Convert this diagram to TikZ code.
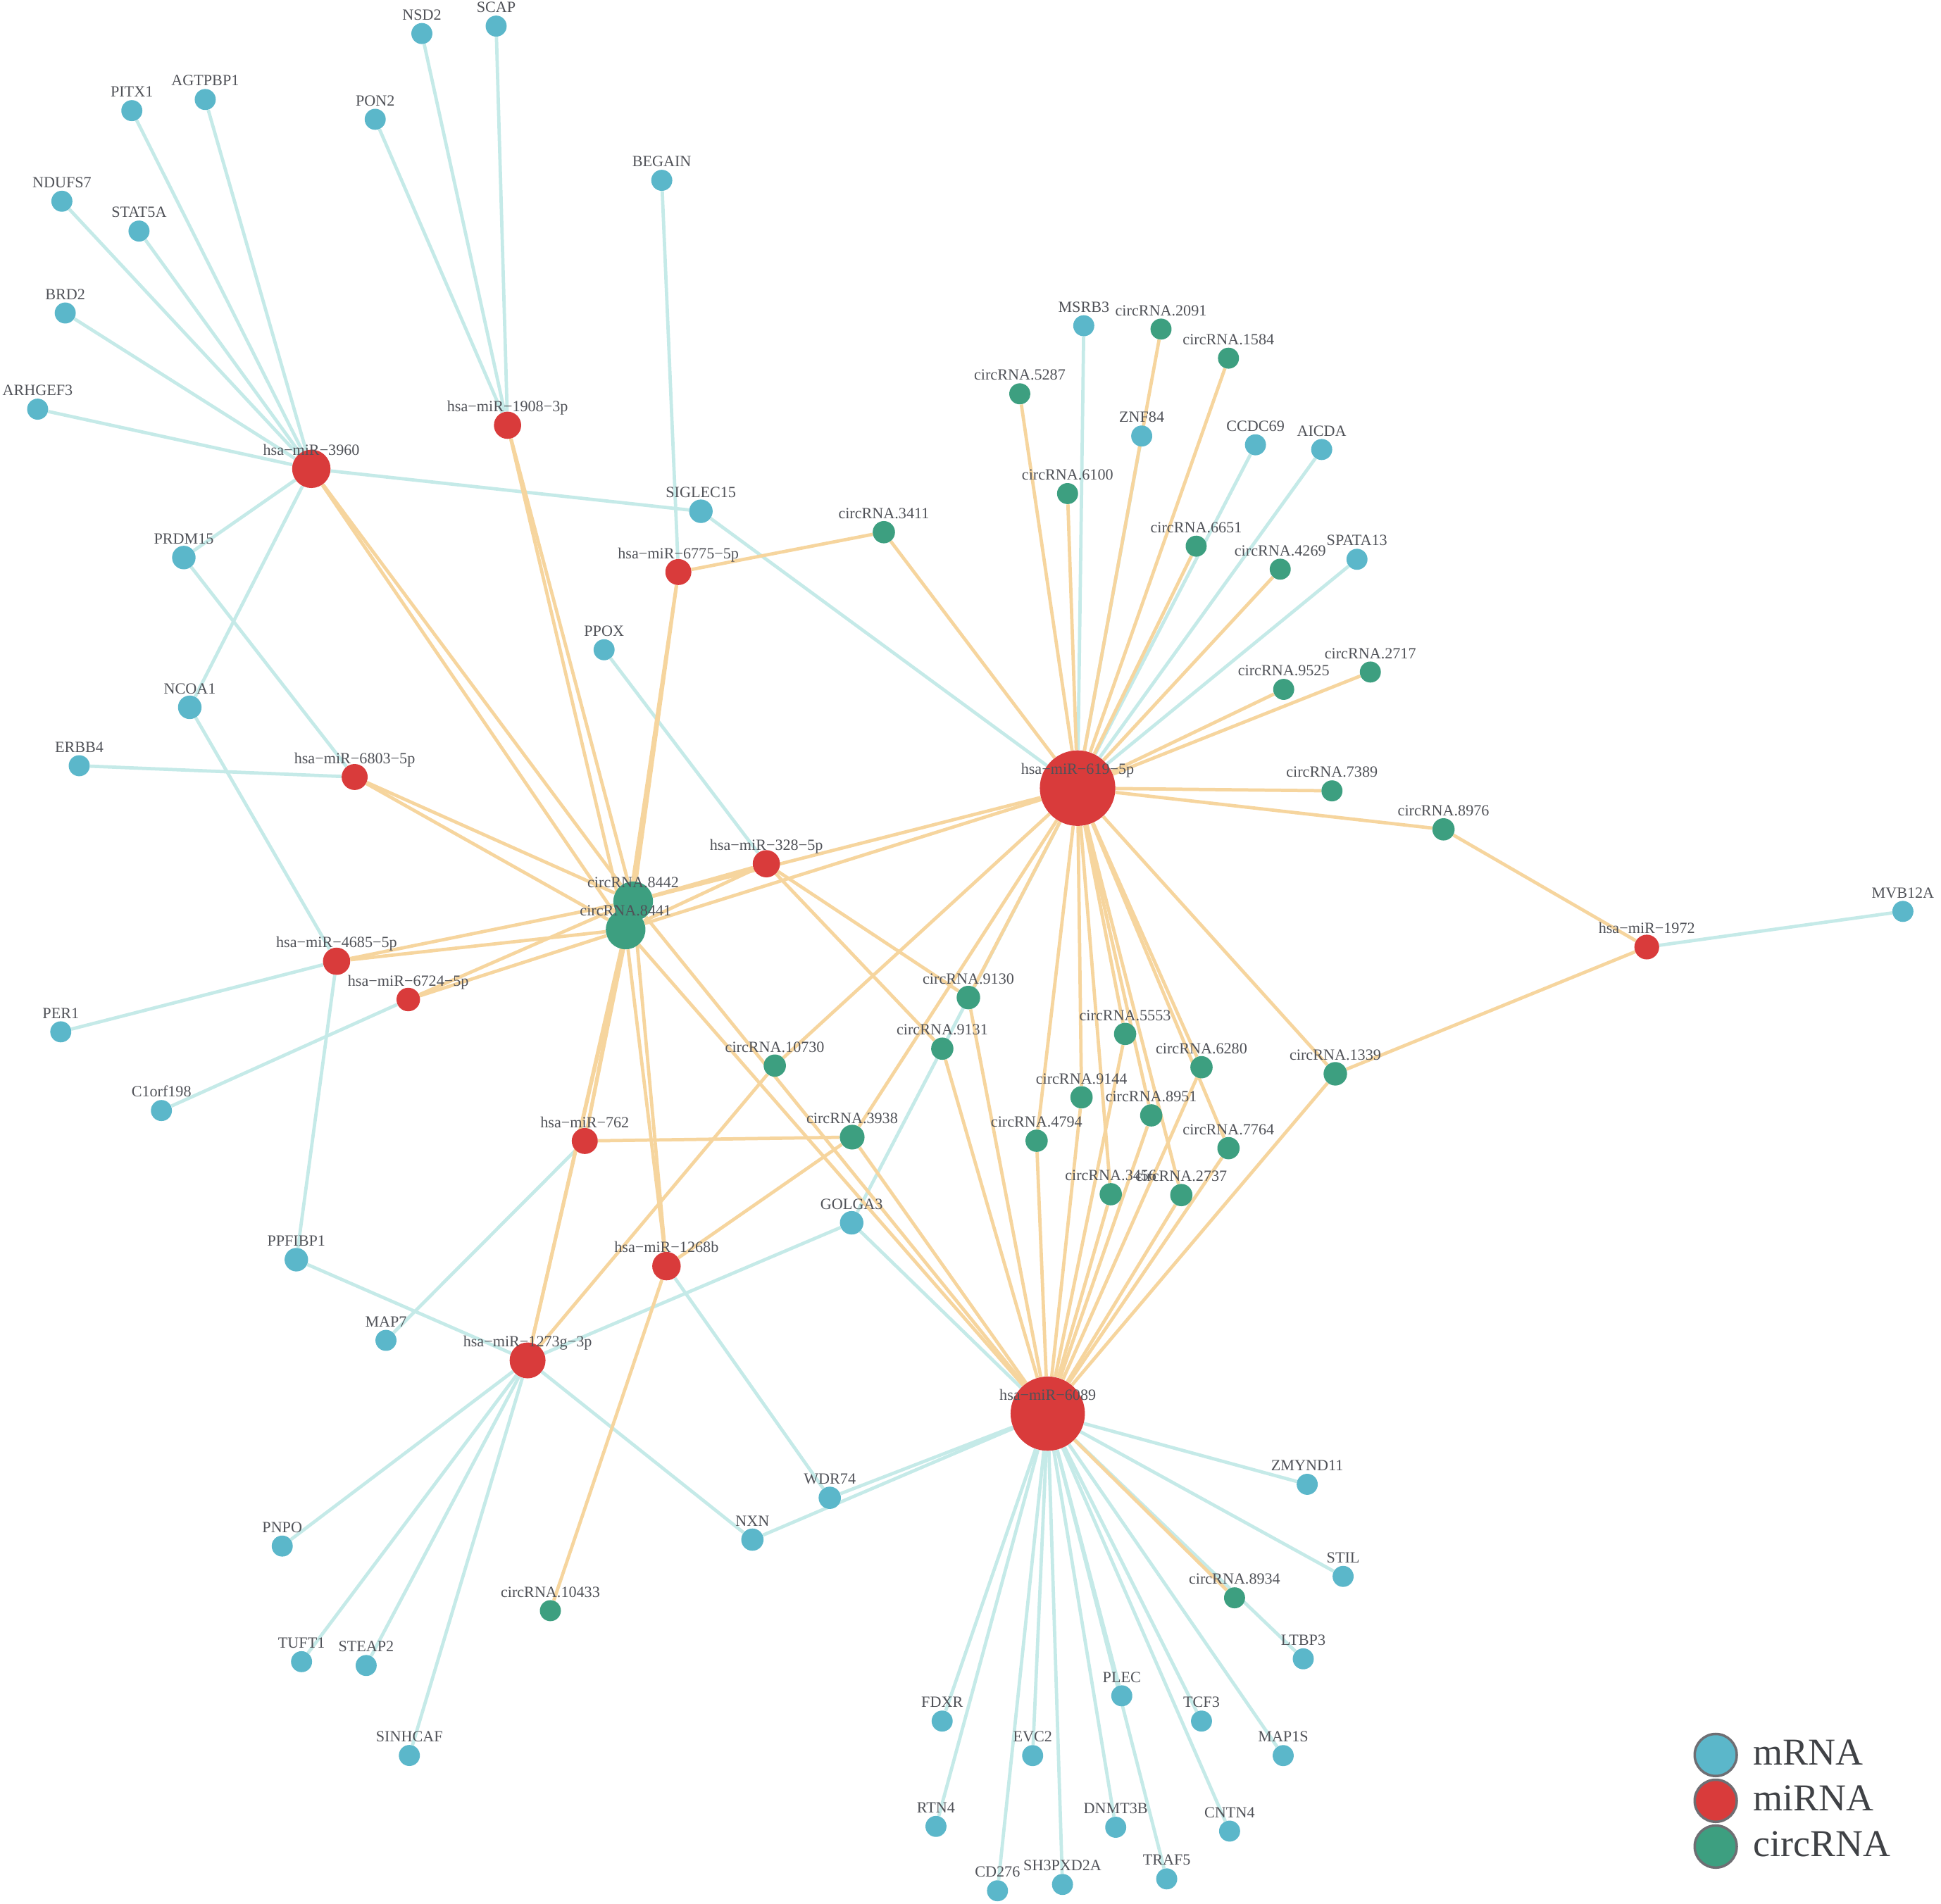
\documentclass[tikz,border=0pt]{standalone}
\usepackage{fontspec}
\setmainfont{Liberation Serif}
\definecolor{cmrna}{RGB}{91,183,202}
\definecolor{cmir}{RGB}{217,59,59}
\definecolor{ccirc}{RGB}{61,159,128}
\definecolor{cbe}{RGB}{197,234,232}
\definecolor{coe}{RGB}{246,213,158}
\definecolor{clbl}{RGB}{80,82,88}
\definecolor{clegline}{RGB}{110,110,115}
\pgfdeclarelayer{edges}
\pgfdeclarelayer{labels}
\pgfsetlayers{edges,main,labels}
\newcommand\gnode[5]{\node[#1] (#2) at (#3,#4) {};
  \begin{pgfonlayer}{labels}\node[lbl] (#2l) at (#3,#4-11) {#5};\end{pgfonlayer}}
\begin{document}
\begin{tikzpicture}[x=1pt,y=-1pt,
  mr/.style={circle,fill=cmrna,inner sep=0pt,minimum size=#1},
  mr/.default=17pt,
  mi/.style={circle,fill=cmir,inner sep=0pt,minimum size=#1},
  ci/.style={circle,fill=ccirc,inner sep=0pt,minimum size=#1},
  ci/.default=17pt,
  lbl/.style={font=\fontsize{12.6pt}{12.6pt}\selectfont,text=clbl,inner sep=0pt,anchor=base},
  be/.style={draw=cbe,line width=2.7pt},
  oe/.style={draw=coe,line width=2.7pt},
  legc/.style={circle,draw=clegline,line width=2pt,inner sep=0pt,minimum size=34pt},
  legt/.style={font=\fontsize{30.7pt}{30.7pt}\selectfont,text=clbl!80!black,inner sep=0pt,anchor=west}]
\useasboundingbox (0,0) rectangle (1568,1538);
% mRNA
\gnode{mr}{NSD2}{340.8}{27.1}{NSD2}
\gnode{mr}{SCAP}{400.8}{21.1}{SCAP}
\gnode{mr}{PITX1}{106.5}{89.4}{PITX1}
\gnode{mr}{AGTPBP1}{165.8}{80.4}{AGTPBP1}
\gnode{mr}{PON2}{303.1}{96.4}{PON2}
\gnode{mr}{NDUFS7}{50}{162.6}{NDUFS7}
\gnode{mr}{STAT5A}{112.3}{186.7}{STAT5A}
\gnode{mr}{BEGAIN}{534.6}{145.7}{BEGAIN}
\gnode{mr}{BRD2}{52.7}{252.9}{BRD2}
\gnode{mr}{ARHGEF3}{30.4}{330.6}{ARHGEF3}
\gnode{mr=19pt}{SIGLEC15}{566.2}{413.1}{SIGLEC15}
\gnode{mr=19pt}{PRDM15}{148.5}{450.5}{PRDM15}
\gnode{mr}{PPOX}{488}{525}{PPOX}
\gnode{mr=19pt}{NCOA1}{153.3}{571.5}{NCOA1}
\gnode{mr}{ERBB4}{64}{618.7}{ERBB4}
\gnode{mr}{PER1}{49.1}{833.7}{PER1}
\gnode{mr}{C1orf198}{130.4}{897.3}{C1orf198}
\gnode{mr=19pt}{PPFIBP1}{239.4}{1017.8}{PPFIBP1}
\gnode{mr}{MAP7}{311.8}{1083}{MAP7}
\gnode{mr=19pt}{GOLGA3}{688}{988}{GOLGA3}
\gnode{mr}{PNPO}{228}{1249.2}{PNPO}
\gnode{mr}{TUFT1}{243.6}{1342.6}{TUFT1}
\gnode{mr}{STEAP2}{295.8}{1345.7}{STEAP2}
\gnode{mr}{SINHCAF}{330.7}{1418.4}{SINHCAF}
\gnode{mr=18pt}{NXN}{607.8}{1244}{NXN}
\gnode{mr=18pt}{WDR74}{670.3}{1210.2}{WDR74}
\gnode{mr}{MSRB3}{875.5}{263.2}{MSRB3}
\gnode{mr}{ZNF84}{922.3}{352.3}{ZNF84}
\gnode{mr}{CCDC69}{1014.2}{359.4}{CCDC69}
\gnode{mr}{AICDA}{1067.7}{363.2}{AICDA}
\gnode{mr}{SPATA13}{1096.2}{451.9}{SPATA13}
\gnode{mr}{MVB12A}{1537.2}{736.4}{MVB12A}
\gnode{mr}{ZMYND11}{1056}{1199.3}{ZMYND11}
\gnode{mr}{STIL}{1085}{1273.7}{STIL}
\gnode{mr}{LTBP3}{1052.8}{1340.3}{LTBP3}
\gnode{mr}{MAP1S}{1036.6}{1418.5}{MAP1S}
\gnode{mr}{PLEC}{906.2}{1370.2}{PLEC}
\gnode{mr}{TCF3}{970.6}{1390.6}{TCF3}
\gnode{mr}{FDXR}{761.1}{1390.6}{FDXR}
\gnode{mr}{EVC2}{834.2}{1418.5}{EVC2}
\gnode{mr}{RTN4}{756.1}{1475.7}{RTN4}
\gnode{mr}{DNMT3B}{901.3}{1476.4}{DNMT3B}
\gnode{mr}{CNTN4}{993.3}{1479.5}{CNTN4}
\gnode{mr}{CD276}{805.8}{1527.7}{CD276}
\gnode{mr}{SH3PXD2A}{858.3}{1522.6}{SH3PXD2A}
\gnode{mr}{TRAF5}{942.5}{1518.1}{TRAF5}
% circRNA
\gnode{ci}{c2091}{937.9}{265.9}{circRNA.2091}
\gnode{ci}{c1584}{992.4}{289.4}{circRNA.1584}
\gnode{ci}{c5287}{823.8}{318.2}{circRNA.5287}
\gnode{ci}{c6100}{862.4}{398.8}{circRNA.6100}
\gnode{ci=18pt}{c3411}{714}{430}{circRNA.3411}
\gnode{ci}{c6651}{966.3}{441.3}{circRNA.6651}
\gnode{ci}{c4269}{1034.2}{459.9}{circRNA.4269}
\gnode{ci}{c9525}{1037}{557}{circRNA.9525}
\gnode{ci}{c2717}{1107}{543}{circRNA.2717}
\gnode{ci}{c7389}{1076}{639}{circRNA.7389}
\gnode{ci=18pt}{c8976}{1166.1}{670.1}{circRNA.8976}
\gnode{ci=32pt}{c8442}{511.5}{728.2}{circRNA.8442}
\gnode{ci=32pt}{c8441}{505.4}{751}{circRNA.8441}
\gnode{ci=19pt}{c9130}{782.3}{806}{circRNA.9130}
\gnode{ci=18pt}{c9131}{761.2}{847.3}{circRNA.9131}
\gnode{ci=18pt}{c10730}{625.9}{861}{circRNA.10730}
\gnode{ci=18pt}{c5553}{908.9}{835.4}{circRNA.5553}
\gnode{ci=18pt}{c6280}{970.6}{862.3}{circRNA.6280}
\gnode{ci=19pt}{c1339}{1078.7}{867.6}{circRNA.1339}
\gnode{ci=18pt}{c9144}{873.7}{886.6}{circRNA.9144}
\gnode{ci=18pt}{c8951}{930}{901.2}{circRNA.8951}
\gnode{ci=18pt}{c4794}{837.4}{921.7}{circRNA.4794}
\gnode{ci=20pt}{c3938}{688.4}{918.8}{circRNA.3938}
\gnode{ci=18pt}{c7764}{992.4}{927.7}{circRNA.7764}
\gnode{ci=18pt}{c3456}{897.3}{964.9}{circRNA.3456}
\gnode{ci=18pt}{c2737}{954.3}{965.6}{circRNA.2737}
\gnode{ci}{c8934}{997.3}{1291}{circRNA.8934}
\gnode{ci}{c10433}{444.6}{1301.4}{circRNA.10433}
% miRNA
\gnode{mi=31pt}{miR3960}{251.5}{378.8}{hsa−miR−3960}
\gnode{mi=22pt}{miR1908}{410}{343.6}{hsa−miR−1908−3p}
\gnode{mi=21pt}{miR6775}{548}{462.2}{hsa−miR−6775−5p}
\gnode{mi=21pt}{miR6803}{286.5}{627.8}{hsa−miR−6803−5p}
\gnode{mi=22pt}{miR4685}{271.9}{776.7}{hsa−miR−4685−5p}
\gnode{mi=19pt}{miR6724}{329.8}{807.6}{hsa−miR−6724−5p}
\gnode{mi=22pt}{miR328}{619.1}{697.9}{hsa−miR−328−5p}
\gnode{mi=61pt}{miR619}{870.5}{636.8}{hsa−miR−619−5p}
\gnode{mi=20pt}{miR1972}{1330.3}{765.2}{hsa−miR−1972}
\gnode{mi=21pt}{miR762}{472.4}{921.9}{hsa−miR−762}
\gnode{mi=23pt}{miR1268b}{538.4}{1023}{hsa−miR−1268b}
\gnode{mi=29pt}{miR1273g}{426.2}{1099.2}{hsa−miR−1273g−3p}
\gnode{mi=60pt}{miR6089}{846.4}{1142.2}{hsa−miR−6089}
% edges
\begin{pgfonlayer}{edges}
\foreach \p/\q in {miR3960/PITX1,miR3960/AGTPBP1,miR3960/NDUFS7,miR3960/STAT5A,miR3960/BRD2,miR3960/ARHGEF3,miR3960/SIGLEC15,miR3960/PRDM15,miR3960/NCOA1,
  miR1908/NSD2,miR1908/SCAP,miR1908/PON2,miR6775/BEGAIN,
  miR619/SIGLEC15,miR619/MSRB3,miR619/ZNF84,miR619/CCDC69,miR619/AICDA,miR619/SPATA13,miR619/GOLGA3,
  miR6803/PRDM15,miR6803/ERBB4,miR4685/NCOA1,miR4685/PER1,miR4685/PPFIBP1,miR6724/C1orf198,
  miR328/PPOX,miR762/MAP7,miR1268b/WDR74,
  miR1273g/PPFIBP1,miR1273g/GOLGA3,miR1273g/NXN,miR1273g/PNPO,miR1273g/TUFT1,miR1273g/STEAP2,miR1273g/SINHCAF,
  miR6089/GOLGA3,miR6089/WDR74,miR6089/NXN,miR6089/ZMYND11,miR6089/STIL,miR6089/LTBP3,miR6089/MAP1S,miR6089/PLEC,miR6089/TCF3,miR6089/FDXR,miR6089/EVC2,miR6089/RTN4,miR6089/DNMT3B,miR6089/CNTN4,miR6089/CD276,miR6089/SH3PXD2A,miR6089/TRAF5,
  miR1972/MVB12A}
  \draw[be] (\p) -- (\q);
\foreach \c in {c8442,c8441}
  \foreach \m in {miR3960,miR1908,miR6775,miR6803,miR4685,miR6724,miR328,miR619,miR762,miR1268b,miR1273g,miR6089}
    \draw[oe] (\c) -- (\m);
\foreach \c in {c5287,c2091,c1584,c6100,c3411,c6651,c4269,c9525,c2717,c7389,c8976,c1339,c10730,c3938,c9130,c5553,c6280,c9144,c8951,c4794,c7764,c3456,c2737}
  \draw[oe] (miR619) -- (\c);
\foreach \c in {c3938,c9130,c9131,c5553,c6280,c9144,c8951,c4794,c7764,c3456,c2737,c1339,c8934}
  \draw[oe] (miR6089) -- (\c);
\foreach \p/\q in {miR328/c9130,miR328/c9131,miR6775/c3411,miR762/c3938,miR1268b/c3938,miR1268b/c10433,miR1273g/c10730,miR1972/c8976,miR1972/c1339}
  \draw[oe] (\p) -- (\q);
\end{pgfonlayer}
% legend
\node[legc,fill=cmrna] (legm) at (1386,1418) {};
\node[legc,fill=cmir] (legi) at (1386,1455) {};
\node[legc,fill=ccirc] (legc) at (1386,1492) {};
\node[legt] (legmt) at (1416,1416) {mRNA};
\node[legt] (legit) at (1416,1453) {miRNA};
\node[legt] (legct) at (1416,1490) {circRNA};
\end{tikzpicture}
\end{document}
